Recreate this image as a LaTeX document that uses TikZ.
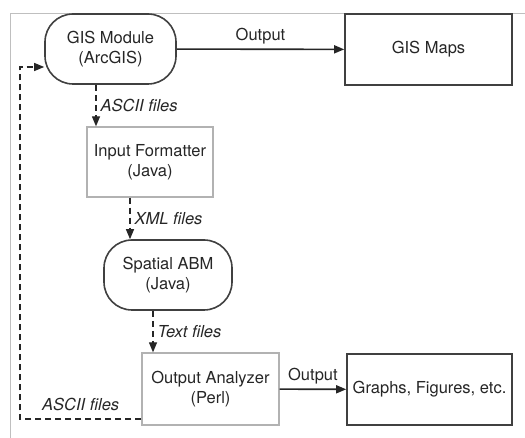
\documentclass[tikz,border=0pt]{standalone}
\usepackage{fontspec}
\setmainfont{TeX Gyre Heros}
\usetikzlibrary{arrows.meta}

\begin{document}
\begin{tikzpicture}[x=1pt,y=-1pt]
        \tikzstyle{every node}=[font=\fontsize{16.5}{20}\selectfont, text=black!85, align=center, inner sep=0pt]
        \tikzstyle{soft}=[draw=black!75, fill=white, line width=1.6pt, rounded corners=28pt, minimum height=70pt]
        \tikzstyle{hard}=[draw=black!75, fill=white, line width=1.6pt, minimum height=71pt]
        \tikzstyle{tool}=[draw=black!30, fill=white, line width=1.3pt, minimum height=70pt]
        \tikzstyle{flow}=[black!85, line width=1.2pt, dash pattern=on 6pt off 4pt, -{Triangle[length=10pt,width=8pt]}]
        \tikzstyle{outflow}=[black!85, line width=1.6pt, -{Triangle[length=10pt,width=8pt]}]
        \tikzstyle{linenode}=[font=\fontsize{16.5}{20}\selectfont\itshape, inner sep=4pt]
        \useasboundingbox (0,0) rectangle (525,438);
        \draw[black!25, line width=1pt] (10,438) -- (10,14) -- (525,14);
        \node[soft, minimum width=131pt] (gis) at (110.5,49) {GIS Module\\(ArcGIS)};
        \node[hard, minimum width=167pt] (maps) at (428.5,49.5) {GIS Maps};
        \node[tool, minimum width=126pt] (inp) at (150,162) {Input Formatter\\(Java)};
        \node[soft, minimum width=128pt] (abm) at (168,275) {Spatial ABM\\(Java)};
        \node[tool, minimum width=137pt, minimum height=72pt] (ana) at (210.5,389) {Output Analyzer\\(Perl)};
        \node[hard, minimum width=165pt] (fig) at (429.5,389.5) {Graphs, Figures, etc.};
        \path [outflow] (gis) edge node[above, inner sep=4pt] {Output} (maps);
        \path [outflow] (ana) edge node[above, inner sep=4pt] {Output} (fig);
        \draw[flow] (gis.south -| 96,0) -- node[linenode, right] {ASCII files} (inp.north -| 96,0);
        \draw[flow] (inp.south -| 130,0) -- node[linenode, right] {XML files} (abm.north -| 130,0);
        \draw[flow] (abm.south -| 153,0) -- node[linenode, right] {Text files} (ana.north -| 153,0);
        \draw[flow] (ana.west |- 0,419) -- node[linenode, above, inner sep=8pt] {ASCII files} (20,419) |- (gis.west |- 0,67);
    \end{tikzpicture}
\end{document}
